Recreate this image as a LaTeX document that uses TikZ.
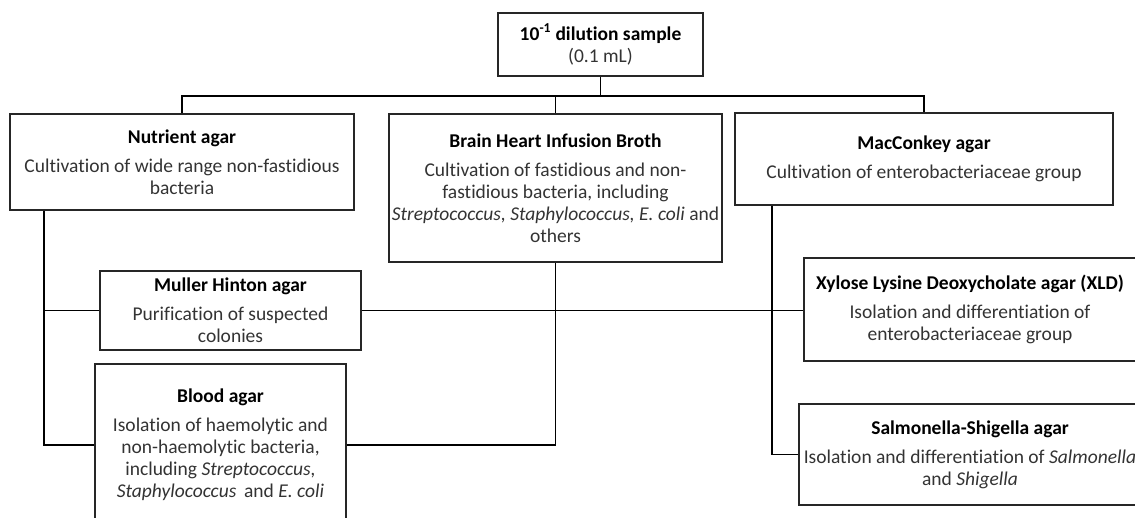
\documentclass[tikz,border=0pt]{standalone}
\usepackage{fontspec}
\setmainfont{Carlito}[Ligatures=NoCommon]
\definecolor{boxline}{HTML}{262626}
\definecolor{desc}{HTML}{333333}
\begin{document}
\begin{tikzpicture}[x=1pt,y=-1pt,
  box/.style={draw=boxline,line width=1.8pt,rectangle,inner sep=0pt,align=center,
    font=\fontsize{19.5}{22}\selectfont,text=desc},
  conn/.style={draw=black,line width=1.8pt}]
\useasboundingbox (0,0) rectangle (1135,517);
\newcommand{\ttl}[1]{{\color{black}\bfseries #1}}
\node[box,minimum width=205,minimum height=63] (top) at (600.5,44.5)
  {\ttl{10\textsuperscript{-1} dilution sample}\\(0.1 mL)};
\node[box,minimum width=344,minimum height=96] (nut) at (182,162)
  {\ttl{Nutrient agar}\\[7pt]Cultivation of wide range non-fastidious\\bacteria};
\node[box,minimum width=333,minimum height=148] (bhi) at (555.5,188)
  {\ttl{Brain Heart Infusion Broth}\\[7pt]Cultivation of fastidious and non-\\fastidious bacteria, including\\\textit{Streptococcus, Staphylococcus, E. coli} and\\others};
\node[box,minimum width=378,minimum height=92] (mac) at (924,159)
  {\ttl{MacConkey agar}\\[7pt]Cultivation of enterobacteriaceae group};
\node[box,minimum width=261,minimum height=79] (mull) at (230.5,310.5)
  {\ttl{Muller Hinton agar}\\[7pt]Purification of suspected\\colonies};
\node[box,minimum width=251,minimum height=162] (blood) at (220.5,445)
  {\ttl{Blood agar}\\[7pt]Isolation of haemolytic and\\non-haemolytic bacteria,\\including \textit{Streptococcus,}\\\textit{Staphylococcus}\, and \textit{E. coli}};
\node[box,minimum width=332,minimum height=103] (xld) at (970,309.5)
  {\ttl{Xylose Lysine Deoxycholate agar (XLD)}\\[7pt]Isolation and differentiation of\\enterobacteriaceae group};
\node[box,minimum width=342,minimum height=101] (ss) at (970,454.5)
  {\ttl{Salmonella-Shigella agar}\\[7pt]Isolation and differentiation of \textit{Salmonella}\\and \textit{Shigella}};
\coordinate (hb) at (600,96);
\path[conn] (top.south) -- (top.south|-hb);
\path[conn] (nut.north) -- (nut.north|-hb) -- (mac.north|-hb) -- (mac.north);
\path[conn] (bhi.north) -- (bhi.north|-hb);
\coordinate (lsp) at ([xshift=35pt]nut.south west);
\path[conn] (lsp) |- (blood.west);
\path[conn] (lsp) |- (mull.west);
\path[conn] (mull.east) -- (mull.east-|xld.west);
\path[conn] (bhi.south) |- (blood.east);
\coordinate (rsp) at ([xshift=38pt]mac.south west);
\path[conn] (rsp) |- (ss.west);
\end{tikzpicture}
\end{document}
